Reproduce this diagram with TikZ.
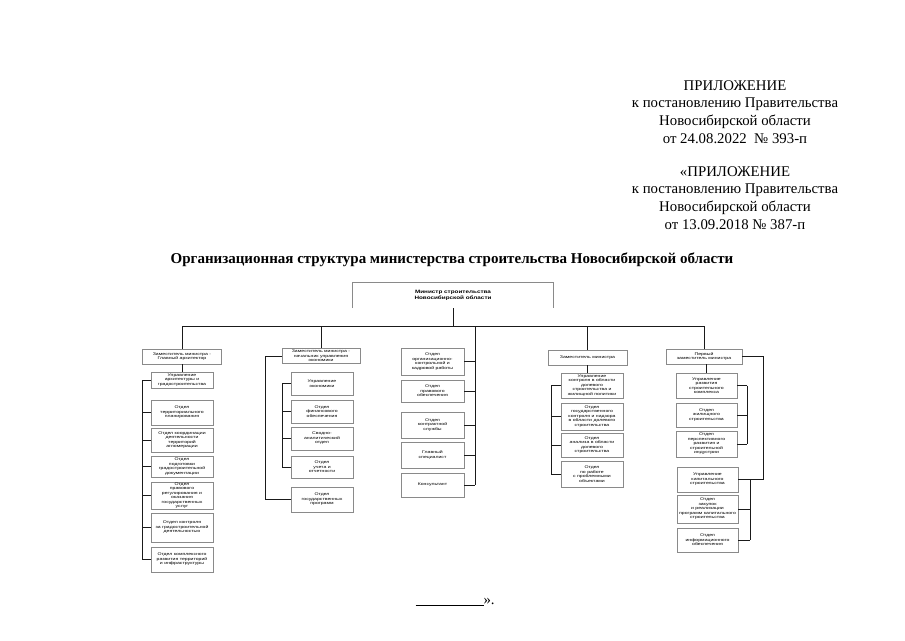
\documentclass[tikz,border=0pt]{standalone}
\usepackage{fontspec}
\setmainfont{Liberation Serif}
\newfontfamily\boxfont[FakeStretch=1.32]{Liberation Sans}
\usepackage{tikz}
\usepackage{xcolor}
\usetikzlibrary{positioning, calc}
\definecolor{boxline}{HTML}{8a8a8a}
\definecolor{wire}{HTML}{1a1a1a}

\begin{document}
\begin{tikzpicture}[x=1pt, y=-1pt,
  unit/.style={draw=boxline, line width=0.8pt, font=\boxfont\fontsize{3.9}{4.5}\selectfont, align=center, inner sep=0.5pt, minimum width=62pt},
  head/.style={unit, minimum width=78pt, minimum height=15pt},
  link/.style={draw=wire, line width=1pt}]

  \useasboundingbox (0,0) rectangle (905,640);

  % Header
  \node[align=center, font=\fontsize{14.8}{17.6}\selectfont] (app1) at (735,112)
    {ПРИЛОЖЕНИЕ\\к постановлению Правительства\\Новосибирской области\\от 24.08.2022~~№ 393-п};
  \node[align=center, font=\fontsize{14.8}{17.6}\selectfont] (app2) at (735,198)
    {«ПРИЛОЖЕНИЕ\\к постановлению Правительства\\Новосибирской области\\от 13.09.2018 № 387-п};
  \node[font=\fontsize{15}{17}\selectfont\bfseries] (title) at (452,260)
    {Организационная структура министерства строительства Новосибирской области};

  % Minister
  \node[minimum width=200pt, minimum height=25pt, align=center, inner sep=0pt,
        font=\boxfont\bfseries\fontsize{4.8}{5.6}\selectfont] (min) at (453,295.5)
    {Министр строительства\\Новосибирской области};
  \draw[boxline, line width=0.8pt] (min.south west) |- (min.north east) -- (min.south east);

  % Bus
  \coordinate (busL) at (182,326);
  \coordinate (busR) at (704,326);
  \draw[link] (min.south) -- (min.south |- busL);
  \draw[link] (busL) -- (busR);

  % Heads
  \node[head, minimum width=79pt] (hA) at (182,356.5) {Заместитель министра -\\Главный архитектор};
  \node[head] (hB) at (321,356) {Заместитель министра -\\начальник управления\\экономики};
  \node[head, minimum width=79pt] (hD) at (587.5,357.5) {Заместитель министра};
  \node[head, minimum width=76pt] (hE) at (704,356.5) {Первый\\заместитель министра};
  \foreach \h in {hA, hB, hD, hE}
    \draw[link] (\h.north |- busL) -- (\h.north);

  % Column A
  \node[unit, minimum height=16pt] (a1) at (182,380) {Управление\\архитектуры и\\градостроительства};
  \node[unit, minimum height=25pt] (a2) at (182,412.5) {Отдел\\территориального\\планирования};
  \node[unit, minimum height=24pt] (a3) at (182,440) {Отдел координации\\деятельности\\территорий\\агломерации};
  \node[unit, minimum height=21pt] (a4) at (182,466.5) {Отдел\\подготовки\\градостроительной\\документации};
  \node[unit, minimum height=27pt] (a5) at (182,495.5) {Отдел\\правового\\регулирования и\\оказания\\государственных\\услуг};
  \node[unit, minimum height=29pt] (a6) at (182,527.5) {Отдел контроля\\за градостроительной\\деятельностью};
  \node[unit, minimum height=25pt] (a7) at (182,559.5) {Отдел комплексного\\развития территорий\\и инфраструктуры};
  \coordinate (ab) at (142,0);
  \draw[link] (hA.south) -- (a1.north);
  \draw[link] (ab |- a1.west) -- (ab |- a7.west);
  \foreach \n in {a1, a2, a3, a4, a5, a6, a7}
    \draw[link] (\n.west) -- (\n.west -| ab);

  % Column B
  \node[unit, minimum height=23pt] (b1) at (322,383.5) {Управление\\экономики};
  \node[unit, minimum height=23pt] (b2) at (322,411.5) {Отдел\\финансового\\обеспечения};
  \node[unit, minimum height=23pt] (b3) at (322,438.5) {Сводно-\\аналитический\\отдел};
  \node[unit, minimum height=22pt] (b4) at (322,467) {Отдел\\учета и\\отчетности};
  \node[unit, minimum height=25pt] (b5) at (322,499.5) {Отдел\\государственных\\программ};
  \coordinate (bb) at (282,0);
  \coordinate (bo) at (265,0);
  \draw[link] (bb |- b1.west) -- (bb |- b4.west);
  \foreach \n in {b1, b2, b3, b4}
    \draw[link] (\n.west) -- (\n.west -| bb);
  \draw[link] (hB.west) -| (bo |- b5.west) -- (b5.west);

  % Column C
  \node[unit, minimum width=63pt, minimum height=27pt] (c1) at (432.5,361.5) {Отдел\\организационно-\\контрольной и\\кадровой работы};
  \node[unit, minimum width=63pt, minimum height=22pt] (c2) at (432.5,391) {Отдел\\правового\\обеспечения};
  \node[unit, minimum width=63pt, minimum height=26pt] (c3) at (432.5,425) {Отдел\\контрактной\\службы};
  \node[unit, minimum width=63pt, minimum height=26pt] (c4) at (432.5,455) {Главный\\специалист};
  \node[unit, minimum width=63pt, minimum height=24pt] (c5) at (432.5,485) {Консультант};
  \coordinate (ct) at (475,326);
  \draw[link] (ct) -- (ct |- c5.east);
  \foreach \n in {c1, c2, c3, c4, c5}
    \draw[link] (\n.east) -- (\n.east -| ct);

  % Column D
  \node[unit, minimum height=25pt] (d1) at (592,385.5) {Управление\\контроля в области\\долевого\\строительства и\\жилищной политики};
  \node[unit, minimum height=27pt] (d2) at (592,416.5) {Отдел\\государственного\\контроля и надзора\\в области долевого\\строительства};
  \node[unit, minimum height=24pt] (d3) at (592,445) {Отдел\\анализа в области\\долевого\\строительства};
  \node[unit, minimum height=26pt] (d4) at (592,474) {Отдел\\по работе\\с проблемными\\объектами};
  \coordinate (db) at (551,0);
  \draw[link] (hD.south) -- (hD.south |- d1.north);
  \draw[link] (db |- d1.west) -- (db |- d4.west);
  \foreach \n in {d1, d2, d3, d4}
    \draw[link] (\n.west) -- (\n.west -| db);

  % Column E
  \node[unit, minimum width=61pt, minimum height=25pt] (e1) at (706.5,385.5) {Управление\\развития\\строительного\\комплекса};
  \node[unit, minimum width=61pt, minimum height=24pt] (e2) at (706.5,415) {Отдел\\жилищного\\строительства};
  \node[unit, minimum width=61pt, minimum height=26pt] (e3) at (706.5,444) {Отдел\\перспективного\\развития и\\строительной\\индустрии};
  \node[unit, minimum width=61pt, minimum height=25pt] (f1) at (707.5,479.5) {Управление\\капитального\\строительства};
  \node[unit, minimum width=61pt, minimum height=28pt] (f2) at (707.5,509) {Отдел\\закупок\\и реализации\\программ капитального\\строительства};
  \node[unit, minimum width=61pt, minimum height=24pt] (f3) at (707.5,540) {Отдел\\информационного\\обеспечения};
  \coordinate (eb) at (747,0);
  \coordinate (fb) at (750,0);
  \coordinate (eo) at (763,0);
  \draw[link] (hE.south -| e1.north) -- (e1.north);
  \draw[link] (eb |- e1.east) -- (eb |- e3.east);
  \foreach \n in {e1, e2, e3}
    \draw[link] (\n.east) -- (\n.east -| eb);
  \draw[link] (hE.east) -| (eo |- f1.east) -- (f1.east);
  \draw[link] (fb |- f1.east) -- (fb |- f3.east);
  \foreach \n in {f1, f2, f3}
    \draw[link] (\n.east) -- (\n.east -| fb);

  % Footer
  \node[font=\fontsize{14.8}{17}\selectfont, anchor=base west] (tail) at (412,604) {\rule[-1.5pt]{68pt}{0.6pt}».};
\end{tikzpicture}
\end{document}
